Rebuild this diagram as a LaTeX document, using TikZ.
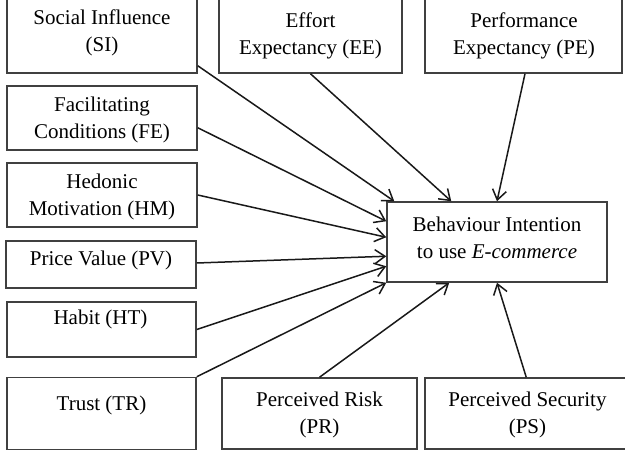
\documentclass[tikz,border=0pt]{standalone}
\usepackage{fontspec}
\setmainfont{Liberation Serif}
\usetikzlibrary{arrows.meta,calc}
\tikzset{
  box/.style={draw=black!75, line width=1.5pt, fill=white, inner sep=0pt},
  txt/.style={align=center, inner sep=0pt, font=\fontsize{21}{27}\selectfont},
  conn/.style={draw=black!90, line width=1.5pt, -{Straight Barb[length=10pt,width=14pt,line width=1.5pt]}}
}
\begin{document}
\begin{tikzpicture}[x=1pt,y=-1pt]
\clip (0,0) rectangle (625,452);
\fill[white] (0,0) rectangle (625,452);
% boxes (centre, width, height in px)
\node[box, minimum width=190pt, minimum height=90pt] (SI) at (102,28) {};
\node[box, minimum width=183pt, minimum height=90pt] (EE) at (310.5,28) {};
\node[box, minimum width=197pt, minimum height=90pt] (PE) at (523.5,28) {};
\node[box, minimum width=190pt, minimum height=64pt] (FE) at (102,118) {};
\node[box, minimum width=190pt, minimum height=64pt] (HM) at (102,195) {};
\node[box, minimum width=190pt, minimum height=47pt] (PV) at (101,264.5) {};
\node[box, minimum width=189pt, minimum height=55pt] (HT) at (101.5,329.5) {};
\node[box, minimum width=189pt, minimum height=72pt] (TR) at (101.5,413.5) {};
\node[box, minimum width=195pt, minimum height=71pt] (PR) at (319.5,413.5) {};
\node[box, minimum width=205pt, minimum height=71pt] (PS) at (527.5,413.5) {};
\node[box, minimum width=220pt, minimum height=80pt] (BI) at (497,242) {};
% texts
\node[txt] (SIt) at (102,33) {Social Influence\\(SI)};
\node[txt] (EEt) at (310.5,35.5) {Effort\\Expectancy (EE)};
\node[txt] (PEt) at (524,35.5) {Performance\\Expectancy (PE)};
\node[txt] (FEt) at (102,119.5) {Facilitating\\Conditions (FE)};
\node[txt] (HMt) at (102,196.5) {Hedonic\\Motivation (HM)};
\node[txt] (PVt) at (101,260) {Price Value (PV)};
\node[txt] (HTt) at (100.5,319) {Habit (HT)};
\node[txt] (TRt) at (101.5,405) {Trust (TR)};
\node[txt] (PRt) at (319.5,415) {Perceived Risk\\(PR)};
\node[txt] (PSt) at (527.5,415) {Perceived Security\\(PS)};
\node[txt] (BIt) at (497,237.5) {Behaviour Intention\\to use \textit{E-commerce}};
% connectors
\draw[conn] ($(SI.south east)+(0,-8)$) -- ($(BI.north west)+(8,0)$);
\draw[conn] (EE.south) -- ($(BI.north west)+(65,0)$);
\draw[conn] ($(PE.south)+(1.5,0)$) -- (BI.north);
\draw[conn] ($(FE.south east)+(0,-23)$) -- ($(BI.north west)+(0,20)$);
\draw[conn] (HM.east) -- ($(BI.north west)+(0,36)$);
\draw[conn] ($(PV.east)+(0,-1.5)$) -- ($(BI.north west)+(0,55)$);
\draw[conn] (HT.east) -- ($(BI.north west)+(0,65)$);
\draw[conn] (TR.north east) -- (BI.south west);
\draw[conn] (PR.north) -- ($(BI.south west)+(63,0)$);
\draw[conn] ($(PS.north west)+(102,0)$) -- (BI.south);
\end{tikzpicture}
\end{document}
